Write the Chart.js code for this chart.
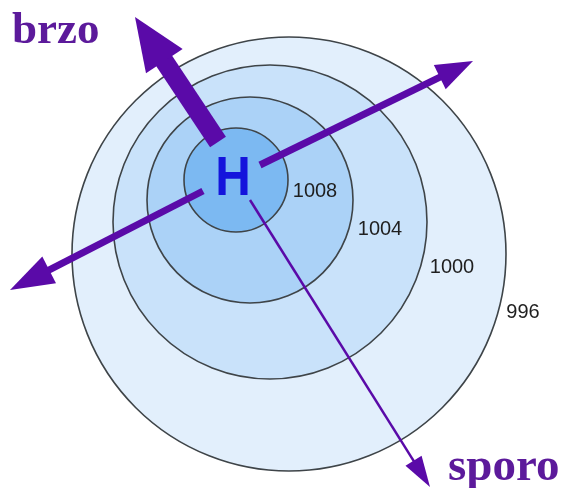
<!DOCTYPE html>
<html><head><meta charset="utf-8">
<style>html,body{margin:0;padding:0;background:#fff;overflow:hidden}#wrap{width:563px;height:488px}</style>
<script src="https://cdn.jsdelivr.net/npm/chart.js@4/dist/chart.umd.min.js"></script>
</head><body><div id="wrap"><canvas id="c" width="563" height="488"></canvas></div>
<script>
// Isobars (outer to inner)
const isobarLabels = ['996', '1000', '1004', '1008'];
const isobarCenterX = [289, 270, 250, 236];
const isobarCenterY = [254, 222, 200, 180];
const isobarRadius = [217, 157, 103, 52];
const isobarFill = ['#e2effc', '#c9e2fa', '#abd2f7', '#7cb9f2'];
const isobarLabelX = [523, 452, 380, 315];
const isobarLabelY = [318, 273, 235, 197];

// Wind arrows
const arrowFromX = [218, 260, 203, 250];
const arrowFromY = [142, 165, 191, 200];
const arrowToX = [135, 473, 10, 430];
const arrowToY = [17, 61, 290, 487];
const arrowShaft = [19, 7, 7, 2.5];
const arrowHeadLen = [53, 37, 44, 31];
const arrowHeadWidth = [44, 27, 30, 19];

// Captions
const captionText = ['brzo', 'sporo'];
const captionX = [12, 448];
const captionY = [43, 480];
const captionSize = [45, 47];

const centerLabel = 'H';
const centerLabelX = 233;
const centerLabelY = 195;

const ARROW = '#5a0aa8';
const CAPTION = '#5c1a9b';

function headBase(i) {
  const dx = arrowToX[i] - arrowFromX[i], dy = arrowToY[i] - arrowFromY[i];
  const L = Math.hypot(dx, dy);
  const k = (arrowHeadLen[i] - 2) / L;
  return { x: arrowToX[i] - dx * k, y: arrowToY[i] - dy * k };
}

const datasets = [];
datasets.push({
  type: 'bubble',
  order: 10,
  clip: false,
  data: isobarLabels.map((l, i) => ({ x: isobarCenterX[i], y: isobarCenterY[i], r: isobarRadius[i] })),
  backgroundColor: isobarFill,
  borderColor: '#3e4448',
  borderWidth: 1.6,
  hoverRadius: 0
});
arrowToX.forEach((t, i) => {
  datasets.push({
    type: 'line',
    order: 1,
    clip: false,
    data: [{ x: arrowFromX[i], y: arrowFromY[i] }, headBase(i)],
    borderColor: ARROW,
    borderWidth: arrowShaft[i],
    borderCapStyle: 'butt',
    pointRadius: 0,
    fill: false,
    tension: 0
  });
});

const drawPlugin = {
  id: 'diagram',
  afterDatasetsDraw(chart) {
    const ctx = chart.ctx, xs = chart.scales.x, ys = chart.scales.y;
    ctx.save();
    // arrow heads
    arrowToX.forEach((t, i) => {
      const tx = xs.getPixelForValue(arrowToX[i]), ty = ys.getPixelForValue(arrowToY[i]);
      const fx = xs.getPixelForValue(arrowFromX[i]), fy = ys.getPixelForValue(arrowFromY[i]);
      const dx = tx - fx, dy = ty - fy, L = Math.hypot(dx, dy);
      const ux = dx / L, uy = dy / L;
      const bx = tx - ux * arrowHeadLen[i], by = ty - uy * arrowHeadLen[i];
      const hw = arrowHeadWidth[i] / 2;
      ctx.beginPath();
      ctx.moveTo(tx, ty);
      ctx.lineTo(bx - uy * hw, by + ux * hw);
      ctx.lineTo(bx + uy * hw, by - ux * hw);
      ctx.closePath();
      ctx.fillStyle = ARROW;
      ctx.fill();
    });
    // isobar labels
    ctx.fillStyle = '#1f1f1f';
    ctx.font = '20px "Liberation Sans", Arial, sans-serif';
    ctx.textAlign = 'center';
    ctx.textBaseline = 'alphabetic';
    isobarLabels.forEach((l, i) => {
      ctx.fillText(l, xs.getPixelForValue(isobarLabelX[i]), ys.getPixelForValue(isobarLabelY[i]));
    });
    // H
    ctx.save();
    ctx.translate(xs.getPixelForValue(centerLabelX), ys.getPixelForValue(centerLabelY));
    ctx.scale(0.88, 1);
    ctx.fillStyle = '#1414dc';
    ctx.font = 'bold 56px "Liberation Sans", Arial, sans-serif';
    ctx.fillText(centerLabel, 0, 0);
    ctx.restore();
    // captions
    ctx.fillStyle = CAPTION;
    ctx.textAlign = 'left';
    captionText.forEach((c, i) => {
      ctx.font = 'bold ' + captionSize[i] + 'px "Liberation Serif", "Times New Roman", serif';
      ctx.fillText(c, xs.getPixelForValue(captionX[i]), ys.getPixelForValue(captionY[i]));
    });
    ctx.restore();
  }
};

new Chart(document.getElementById('c'), {
  type: 'bubble',
  data: { datasets },
  options: {
    responsive: false,
    devicePixelRatio: 1,
    animation: false,
    events: [],
    layout: { padding: 0, autoPadding: false },
    plugins: { legend: { display: false }, tooltip: { enabled: false }, title: { display: false } },
    scales: {
      x: { type: 'linear', min: 0, max: 563, display: false },
      y: { type: 'linear', min: 0, max: 488, reverse: true, display: false }
    }
  },
  plugins: [drawPlugin]
});
</script>
</body></html>
